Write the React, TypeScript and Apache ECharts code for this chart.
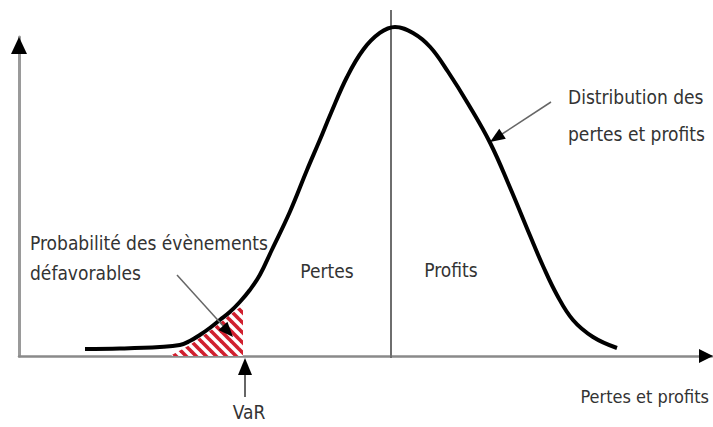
import React, { useEffect, useRef } from "react";
import * as echarts from "echarts";

// Profit & loss axis (x) and density (y, peak = 100)
const curveX = [-7.65, -6.78, -5.78, -5.28, -5.03, -4.78, -4.53, -4.28, -4.03, -3.78, -3.53, -3.28, -2.98, -2.53, -2.1, -1.78, -1.5, -1.1, -0.7, -0.28, 0.1, 0.55, 0.98, 1.43, 1.93, 2.48, 2.98, 3.48, 3.8, 4.15, 4.55, 5.05, 5.65];
const curveY = [2.13, 2.28, 2.74, 3.34, 4.56, 6.38, 8.51, 10.94, 13.37, 16.41, 20.06, 24.62, 32.22, 43.77, 56.53, 65.65, 73.86, 84.8, 93.01, 98.18, 100, 98.18, 93.92, 86.32, 76.6, 64.74, 51.06, 36.47, 27.36, 18.54, 10.94, 5.78, 2.43];

// Hatched tail (unfavourable events) up to the VaR
const hatchX = [-5.48, -5.03, -4.53, -4.03, -3.7, -3.7];
const hatchY = [0.3, 3.34, 7.6, 12.46, 15.5, 0];

const VAR_X = -3.65;
const SPLIT_X = 0;
const X_MIN = -9.3;
const X_MAX = 8.025;
const Y_MAX = 96.96;

const FONT = "'Liberation Sans Narrow', 'DejaVu Sans Condensed', 'Noto Sans', sans-serif";
const TEXT_COLOR = "#333";

function makePattern() {
  const s = 10;
  const c = document.createElement("canvas");
  c.width = s;
  c.height = s;
  const g = c.getContext("2d")!;
  g.fillStyle = "#ffffff";
  g.fillRect(0, 0, s, s);
  g.strokeStyle = "#d01f2e";
  g.lineWidth = 3.6;
  for (const k of [-s, 0, s]) {
    g.beginPath();
    g.moveTo(-2, k - 2);
    g.lineTo(s + 2, k + s + 2);
    g.stroke();
  }
  return c;
}

function arrowHead(tip: number[], from: number[], len: number, half: number) {
  const dx = tip[0] - from[0];
  const dy = tip[1] - from[1];
  const L = Math.hypot(dx, dy);
  const ux = dx / L;
  const uy = dy / L;
  const bx = tip[0] - ux * len;
  const by = tip[1] - uy * len;
  return [
    [tip[0], tip[1]],
    [bx - uy * half, by + ux * half],
    [bx + uy * half, by - ux * half],
  ];
}

function txt(text: string, x: number, y: number, align = "left", size = 19) {
  return {
    type: "text",
    z: 10,
    style: {
      text,
      x,
      y,
      fill: TEXT_COLOR,
      fontSize: size,
      fontFamily: FONT,
      align,
      textAlign: align,
      verticalAlign: "middle",
      textVerticalAlign: "middle",
    },
  };
}

export default function App() {
  const ref = useRef<HTMLDivElement>(null);
  useEffect(() => {
    const chart = echarts.init(ref.current!, null, { renderer: "svg" });
    const curve = curveX.map((x, i) => [x, curveY[i]]);
    const hatch = hatchX.map((x, i) => [x, hatchY[i]]);
    const pattern = makePattern();
    chart.setOption({
      animation: false,
      backgroundColor: "#ffffff",
      grid: { left: 19, right: 1, top: 37, bottom: 71 },
      xAxis: {
        type: "value",
        min: X_MIN,
        max: X_MAX,
        axisLine: { show: true, onZero: false, lineStyle: { color: "#8a8a8a", width: 2.5 } },
        axisTick: { show: false },
        axisLabel: { show: false },
        splitLine: { show: false },
      },
      yAxis: {
        type: "value",
        min: 0,
        max: Y_MAX,
        axisLine: { show: true, onZero: false, lineStyle: { color: "#9a9a9a", width: 3 } },
        axisTick: { show: false },
        axisLabel: { show: false },
        splitLine: { show: false },
      },
      series: [
        {
          type: "line",
          data: hatch,
          symbol: "none",
          lineStyle: { width: 0 },
          areaStyle: {
            color: { image: pattern, repeat: "repeat", imageWidth: 10, imageHeight: 10 },
            opacity: 1,
          },
          z: 1,
          silent: true,
        },
        {
          type: "line",
          data: curve,
          symbol: "none",
          smooth: 0.4,
          clip: false,
          lineStyle: { color: "#000", width: 4 },
          z: 5,
        },
      ],
    });

    const toPx = (x: number, y: number) => chart.convertToPixel({ gridIndex: 0 }, [x, y]) as number[];
    const origin = toPx(X_MIN, 0);
    const yTop = toPx(X_MIN, Y_MAX);
    const xEnd = toPx(X_MAX, 0);
    const split = toPx(SPLIT_X, 0);
    const varPt = toPx(VAR_X, 0);

    const gray = "#666";
    const graphics: any[] = [
      // axis arrowheads
      { type: "polygon", z: 20, shape: { points: arrowHead([yTop[0], yTop[1]], [origin[0], origin[1]], 17, 8) }, style: { fill: "#000" } },
      { type: "polygon", z: 20, shape: { points: arrowHead([xEnd[0] + 1, xEnd[1]], [origin[0], origin[1]], 14, 7) }, style: { fill: "#000" } },
      // split line between losses and profits
      { type: "line", z: 4, shape: { x1: split[0], y1: 10, x2: split[0], y2: split[1] + 2 }, style: { stroke: "#6e6e6e", lineWidth: 2 } },
      // VaR arrow
      { type: "line", z: 4, shape: { x1: varPt[0], y1: 397, x2: varPt[0], y2: varPt[1] + 14 }, style: { stroke: gray, lineWidth: 2 } },
      { type: "polygon", z: 20, shape: { points: arrowHead([varPt[0], varPt[1] + 2], [varPt[0], 397], 17, 7) }, style: { fill: "#000" } },
      // Distribution arrow
      { type: "line", z: 6, shape: { x1: 551, y1: 102, x2: 499, y2: 136 }, style: { stroke: gray, lineWidth: 1.5 } },
      { type: "polygon", z: 20, shape: { points: arrowHead([490, 142], [551, 102], 15, 6) }, style: { fill: "#000" } },
      // Probability arrow
      { type: "line", z: 6, shape: { x1: 177, y1: 275, x2: 225, y2: 328 }, style: { stroke: gray, lineWidth: 1.5 } },
      { type: "polygon", z: 20, shape: { points: arrowHead([233, 337], [177, 275], 15, 6) }, style: { fill: "#000" } },
      // texts
      txt("Probabilité des évènements", 30, 243),
      txt("défavorables", 30, 273),
      txt("Pertes", 327, 271, "center"),
      txt("Profits", 451, 270, "center"),
      txt("Distribution des", 568, 97),
      txt("pertes et profits", 568, 134),
      txt("Pertes et profits", 709, 396, "right", 18),
      txt("VaR", varPt[0] + 4, 412, "center"),
    ];
    chart.setOption({ graphic: graphics });
    return () => chart.dispose();
  }, []);
  return (
    <div
      ref={ref}
      style={{ position: "fixed", left: 0, top: 0, width: 713, height: 427, background: "#fff" }}
    />
  );
}
